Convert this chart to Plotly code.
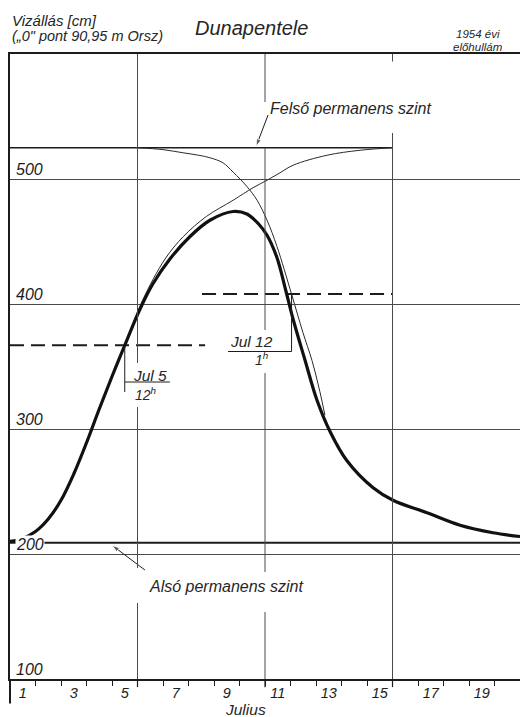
import plotly.graph_objects as go

# ---------------- data ----------------
# time axis: days from 1 July 00:00 (day labels sit at the middle of each day)
DAY_LABELS = ["1", "3", "5", "7", "9", "11", "13", "15", "17", "19"]
DAY_LABEL_POS = [0.5, 2.5, 4.5, 6.5, 8.5, 10.5, 12.5, 14.5, 16.5, 18.5]
Y_TICKS = [100, 200, 300, 400, 500]
Y_GRID = [200, 300, 400, 500]
V_GRID_DAYS = [5, 10, 15]

# observed stage hydrograph (thick line), cm
T_OBS = [0, 0.5, 1.0, 1.5, 2.0, 2.5, 3.0, 3.5, 4.0, 4.5, 5.1, 5.6, 6.27, 7.06, 7.84,
         8.75, 9.29, 9.75, 10.08, 10.47, 10.8, 11.1, 11.57, 12.04, 12.55, 13.2,
         14.24, 15.02, 16.35, 17.65, 18.94, 20]
V_OBS = [210, 212.5, 218, 228, 243, 264, 289, 316, 342, 367, 396, 416, 436, 454, 467,
         474, 472, 464, 455, 437, 412, 388, 355, 323, 298, 275,
         253, 243, 233, 223, 217, 214]

# thin rising curve (towards upper permanent level)
T_RISE = [4.6, 5.2, 6.08, 6.8, 7.7, 8.75, 9.53, 10.08, 10.59, 11.1, 12.43, 13.73, 15.0]
V_RISE = [372, 403, 436, 454, 470, 483, 493, 499, 505, 511, 519, 523, 525]

# thin falling curve (from upper permanent level)
T_FALL = [5.0, 6.0, 6.78, 7.4, 7.84, 8.35, 8.75, 9.29, 9.69, 10.08, 10.47, 11.04,
          11.49, 11.84, 12.15, 12.35]
V_FALL = [525, 523.5, 521, 519, 517, 513, 505.5, 494, 483, 467, 446, 408,
          377, 355, 330, 311]

# permanent levels
FELSO_LEVEL = 525          # Felső permanens szint
FELSO_T = [0, 15]
ALSO_LEVEL = 209           # Alsó permanens szint
ALSO_T = [0, 20]

# marked instants: Jul 5 12h and Jul 12 1h, with their levels (dashed lines)
EVENT_T = [4.5, 11.0 + 1 / 24]
EVENT_LEVEL = [367, 408]
DASH_T = [[0, 7.65], [7.53, 15]]

INK = "#1c1c1c"
GRID = "#4a4a4a"
FONT = "Liberation Sans"

fig = go.Figure()

# dashed levels
for (t0, t1), lev in zip(DASH_T, EVENT_LEVEL):
    fig.add_trace(go.Scatter(x=[t0, t1], y=[lev, lev], mode="lines",
                             line=dict(color=INK, width=1.8, dash="14px,7px"),
                             hoverinfo="skip", showlegend=False))
# permanent levels
fig.add_trace(go.Scatter(x=FELSO_T, y=[FELSO_LEVEL] * 2, mode="lines",
                         line=dict(color=INK, width=1.6), showlegend=False))
fig.add_trace(go.Scatter(x=ALSO_T, y=[ALSO_LEVEL] * 2, mode="lines",
                         line=dict(color=INK, width=1.8), showlegend=False))
# thin curves
fig.add_trace(go.Scatter(x=T_RISE, y=V_RISE, mode="lines",
                         line=dict(color="#2a2a2a", width=1, shape="spline", smoothing=1),
                         showlegend=False))
fig.add_trace(go.Scatter(x=T_FALL, y=V_FALL, mode="lines",
                         line=dict(color="#2a2a2a", width=1, shape="spline", smoothing=1),
                         showlegend=False))
# observed hydrograph
fig.add_trace(go.Scatter(x=T_OBS, y=V_OBS, mode="lines",
                         line=dict(color="#111111", width=3.2, shape="spline", smoothing=1),
                         showlegend=False))

# leader arrows from the labels to the permanent levels
for (tx, ty), (hx, hy) in [((10.12, 551.2), (9.65, FELSO_LEVEL + 1)),
                           ((5.29, 187.2), (4.0, ALSO_LEVEL - 2))]:
    fig.add_trace(go.Scatter(x=[tx, hx], y=[ty, hy], mode="lines+markers",
                             line=dict(color=INK, width=1),
                             marker=dict(symbol=["circle", "arrow"], size=[0, 8],
                                         angleref="previous", color=INK),
                             hoverinfo="skip", showlegend=False))

shapes = []
# vertical grid lines with gaps around labels
GAPS = {5: [(600, 352.8), (317.6, 188.8), (160.8, 100)],
        10: [(600, 561.6), (524.8, 379.2), (344.8, 185.6), (153.6, 100)],
        15: [(600, 594), (536.8, 100)]}
for d in V_GRID_DAYS:
    for y0, y1 in GAPS[d]:
        shapes.append(dict(type="line", xref="x", yref="y", x0=d, x1=d, y0=y0, y1=y1,
                           line=dict(color=GRID, width=1)))
    shapes.append(dict(type="line", xref="x", yref="paper", x0=d, x1=d, y0=0, y1=-0.013,
                       line=dict(color=INK, width=1.2)))
# left axis extends below the time axis
shapes.append(dict(type="line", xref="paper", yref="paper", x0=0, x1=0, y0=0, y1=-0.039,
                   line=dict(color=INK, width=2)))
# brackets of the marked instants
shapes += [
    dict(type="line", xref="x", yref="y", x0=EVENT_T[0], x1=EVENT_T[0], y0=EVENT_LEVEL[0], y1=329.6,
         line=dict(color=INK, width=1)),
    dict(type="line", xref="x", yref="y", x0=EVENT_T[0], x1=6.27, y0=337.6, y1=337.6,
         line=dict(color=INK, width=1)),
    dict(type="line", xref="x", yref="y", x0=EVENT_T[1], x1=EVENT_T[1], y0=EVENT_LEVEL[1], y1=362,
         line=dict(color=INK, width=1)),
    dict(type="line", xref="x", yref="y", x0=8.55, x1=EVENT_T[1], y0=362, y1=362,
         line=dict(color=INK, width=1)),
]

def it(s):
    return "<i>" + s + "</i>"

ann = []
# y labels inside the plot, above their grid lines
for v in Y_TICKS:
    ann.append(dict(x=0, xref="paper", y=v, yref="y", text=it(str(v)), showarrow=False,
                    xanchor="left", yanchor="middle", xshift=5, yshift=10,
                    bgcolor="white", borderpad=0,
                    font=dict(family=FONT, size=16, color=INK)))
txt = dict(family=FONT, color="#262626")
ann += [
    dict(x=0, xref="paper", y=1.0544, yref="paper", text=it("Vizállás [cm]"), showarrow=False,
         xanchor="left", yanchor="middle", font=dict(size=15, **txt)),
    dict(x=0, xref="paper", y=1.0288, yref="paper", text=it("(„0\" pont 90,95 m Orsz)"),
         showarrow=False, xanchor="left", yanchor="middle", font=dict(size=14.5, **txt)),
    dict(x=(193 - 10) / 510, xref="paper", y=1.0416, yref="paper", text=it("Dunapentele"),
         showarrow=False, xanchor="left", yanchor="middle", font=dict(size=20, **txt)),
    dict(x=(502 - 10) / 510, xref="paper", y=1.032, yref="paper", text=it("1954 évi"),
         showarrow=False, xanchor="right", yanchor="middle", font=dict(size=11.5, **txt)),
    dict(x=(505 - 10) / 510, xref="paper", y=1.0112, yref="paper", text=it("előhullám"),
         showarrow=False, xanchor="right", yanchor="middle", font=dict(size=11.5, **txt)),
    dict(x=10.1, y=556.8, text=it("Felső permanens szint"), showarrow=False,
         xanchor="left", yanchor="middle", font=dict(size=16, **txt)),
    dict(x=5.37, y=174.4, text=it("Alsó permanens szint"), showarrow=False,
         xanchor="left", yanchor="middle", font=dict(size=16, **txt)),
    dict(x=5.49, y=343.2, text=it("Jul 5"), showarrow=False,
         xanchor="center", yanchor="middle", font=dict(size=15.5, **txt)),
    dict(x=4.82, y=328.4, text=it("12<sup>h</sup>"), showarrow=False,
         xanchor="left", yanchor="middle", font=dict(size=14, **txt)),
    dict(x=8.55, y=370.4, text=it("Jul 12"), showarrow=False,
         xanchor="left", yanchor="middle", font=dict(size=15.5, **txt)),
    dict(x=9.53, y=356.4, text=it("1<sup>h</sup>"), showarrow=False,
         xanchor="left", yanchor="middle", font=dict(size=14, **txt)),
    dict(x=(245 - 10) / 510, xref="paper", y=-0.048, yref="paper", text=it("Julius"),
         showarrow=False, xanchor="center", yanchor="middle", font=dict(size=15.5, **txt)),
]

fig.update_layout(
    width=520, height=717,
    margin=dict(l=10, r=0, t=54, b=38),
    paper_bgcolor="white", plot_bgcolor="white",
    shapes=shapes, annotations=ann, showlegend=False,
    xaxis=dict(range=[0, 20], showgrid=False, zeroline=False,
               showline=True, linecolor=INK, linewidth=1.6, mirror=True,
               tickvals=DAY_LABEL_POS, ticktext=DAY_LABELS, ticks="",
               tickfont=dict(family=FONT, size=14.5, color=INK, style="italic"),
               minor=dict(tick0=0, dtick=1, ticks="outside", ticklen=5,
                          tickcolor=INK, tickwidth=1, showgrid=False)),
    yaxis=dict(range=[100, 600], tickvals=Y_GRID, showticklabels=False, ticks="",
               showgrid=True, gridcolor=GRID, gridwidth=1, zeroline=False,
               showline=True, linecolor=INK, linewidth=2),
)

fig.write_html("out.html")
